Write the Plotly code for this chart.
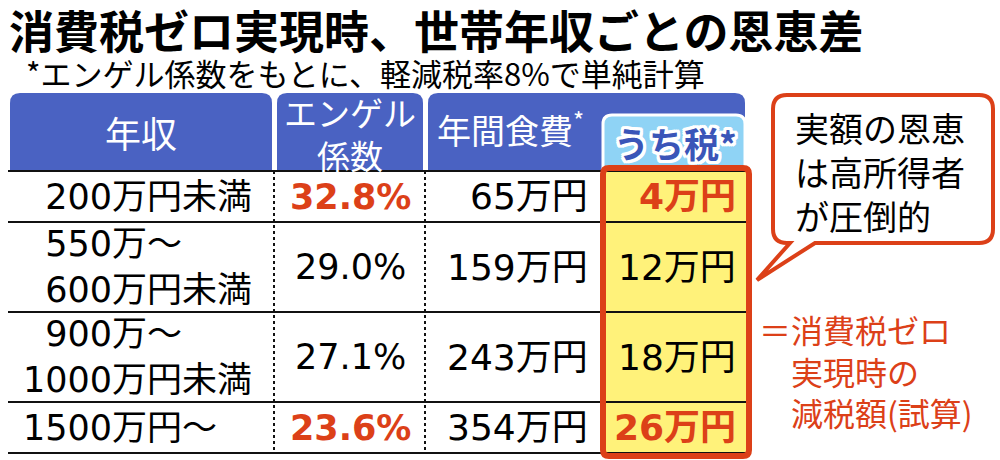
import plotly.graph_objects as go

# ---------------------------------------------------
# data
TITLE = "消費税ゼロ実現時、世帯年収ごとの恩恵差"
SUBTITLE = "*エンゲル係数をもとに、軽減税率8%で単純計算"
headers = ["年収", "エンゲル<br>係数", "年間食費<sup>*</sup>", "うち税*"]
income = [["200万円未満"], ["550万～", "600万円未満"], ["900万～", "1000万円未満"], ["1500万円～"]]
engel = [32.8, 29.0, 27.1, 23.6]        # %
food = [65, 159, 243, 354]              # 万円
tax = [4, 12, 18, 26]                   # 万円
highlight = [True, False, False, True]
note = ["実額の恩恵", "は高所得者", "が圧倒的"]
legend_txt = ["＝消費税ゼロ", "実現時の", "減税額(試算)"]

# ---------------------------------------------------
FONT = "Noto Sans CJK JP"
NUMFONT = "DejaVu Sans, Noto Sans CJK JP"
BLUE = "#4a62c2"
LBLUE = "#8fd3f5"
YELLOW = "#fff27a"
RED = "#dc4018"
DBLUE = "#3a55b8"


def rrect(x0, y0, x1, y1, r, top_only=False):
  if top_only:
    return (f"M{x0},{y1} L{x0},{y0+r} Q{x0},{y0} {x0+r},{y0} "
            f"L{x1-r},{y0} Q{x1},{y0} {x1},{y0+r} L{x1},{y1} Z")
  return (f"M{x0+r},{y0} L{x1-r},{y0} Q{x1},{y0} {x1},{y0+r} "
          f"L{x1},{y1-r} Q{x1},{y1} {x1-r},{y1} L{x0+r},{y1} "
          f"Q{x0},{y1} {x0},{y1-r} L{x0},{y0+r} Q{x0},{y0} {x0+r},{y0} Z")


def txt(x, y, s, size=36, color="black", anchor="center", bold=False, family=FONT, **kw):
  f = dict(family=family, size=size, color=color)
  if bold:
    f["weight"] = "bold"
  f.update(kw)
  return dict(x=x, y=y, xref="x", yref="y", text=s, showarrow=False,
              xanchor=anchor, yanchor="middle", align=anchor if anchor != "center" else "center",
              borderpad=0, font=f)


shapes = []
ann = []

# header boxes
HEAD_TOP, HEAD_BOT = 93, 171
col_x = [(10, 272), (277, 423), (428, 745)]
for x0, x1 in col_x:
  shapes.append(dict(type="path", path=rrect(x0, HEAD_TOP, x1, HEAD_BOT, 10, True),
                     fillcolor=BLUE, line=dict(width=0)))
shapes.append(dict(type="path", path=rrect(603, 115, 745, HEAD_BOT, 9, True),
                   fillcolor=LBLUE, line=dict(color="white", width=3)))

# row boundaries
bounds = [HEAD_BOT]
for lab in income:
  bounds.append(bounds[-1] + (51 if len(lab) == 1 else 90))

# yellow column
shapes.append(dict(type="rect", x0=604, x1=748, y0=170, y1=bounds[-1] + 2,
                   fillcolor=YELLOW, line=dict(width=0)))
for b in bounds:
  shapes.append(dict(type="line", x0=8, x1=748, y0=b, y1=b,
                     line=dict(color="#111", width=2)))
for xv in (274, 425):
  shapes.append(dict(type="line", x0=xv, x1=xv, y0=HEAD_BOT, y1=bounds[-1],
                     line=dict(color="#111", width=2, dash="dot")))
shapes.append(dict(type="path", path=rrect(603, 168, 749, bounds[-1] + 3, 6),
                   fillcolor="rgba(0,0,0,0)", line=dict(color=RED, width=6)))

# callout
cx0, cy0, cx1, cy1, r = 773, 95, 993, 243, 14
callout = (f"M{cx0+r},{cy0} L{cx1-r},{cy0} Q{cx1},{cy0} {cx1},{cy0+r} "
           f"L{cx1},{cy1-r} Q{cx1},{cy1} {cx1-r},{cy1} L815,{cy1} L757,280 L790,{cy1} "
           f"L{cx0+r},{cy1} Q{cx0},{cy1} {cx0},{cy1-r} L{cx0},{cy0+r} Q{cx0},{cy0} {cx0+r},{cy0} Z")
shapes.append(dict(type="path", path=callout, fillcolor="white",
                   line=dict(color=RED, width=4)))

# title
ann.append(txt(8, 29, TITLE, size=45, anchor="left", bold=True))
ann.append(txt(25, 72, SUBTITLE, size=31, anchor="left"))

# header texts
ann.append(txt(141, 132, headers[0], color="white"))
ann.append(txt(350, 133, headers[1], size=33, color="white"))
ann.append(txt(510, 128, headers[2], size=34, color="white"))
outline = ", ".join(f"white {a}px {b}px 0" for a in (-3, -2, 0, 2, 3) for b in (-3, -2, 0, 2, 3)
                    if (a or b) and abs(a) + abs(b) <= 5)
ann.append(txt(675, 142, headers[3], size=35, color=DBLUE, bold=True, shadow=outline))

# body
for i, lab in enumerate(income):
  yc = (bounds[i] + bounds[i + 1]) / 2
  lines = []
  for line in lab:
    num, rest = line.split("万", 1)
    lines.append(num.rjust(4, "\u2007") + "万" + rest)
  ann.append(txt(22, yc, "<br>".join(lines), size=35, anchor="left", family=NUMFONT))
  col = RED if highlight[i] else "black"
  ann.append(txt(350, yc, f"{engel[i]:.1f}%", size=35, color=col, bold=highlight[i],
                 family=NUMFONT))
  ann.append(txt(589, yc, f"{food[i]}万円", size=36, anchor="right", family=NUMFONT))
  ann.append(txt(737, yc, f"{tax[i]}万円", size=36, color=col, bold=highlight[i],
                 anchor="right", family=NUMFONT))

# notes
ann.append(txt(794, 171, "<br>".join(note), size=34, anchor="left"))
ann.append(txt(758, 370, "<br>".join([legend_txt[0]] + ["\u3000" + s for s in legend_txt[1:]]),
               size=32, color=RED, anchor="left"))

fig = go.Figure()
fig.update_layout(width=1000, height=460, margin=dict(l=0, r=0, t=0, b=0),
                  paper_bgcolor="white", plot_bgcolor="white",
                  shapes=shapes, annotations=ann, showlegend=False)
fig.update_xaxes(range=[0, 1000], visible=False, fixedrange=True)
fig.update_yaxes(range=[460, 0], visible=False, fixedrange=True)
fig.write_html("out.html", config={"displayModeBar": False},
               post_script="document.body.style.margin='0px';")
